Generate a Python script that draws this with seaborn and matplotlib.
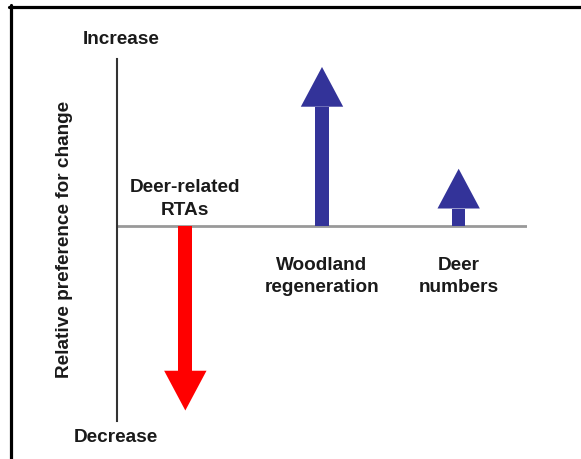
import numpy as np
import pandas as pd
import seaborn as sns
import matplotlib.pyplot as plt
from matplotlib.lines import Line2D

# --- data ----
categories = ['Deer-related RTAs', 'Woodland regeneration', 'Deer numbers']
labels = ['Deer-related\nRTAs', 'Woodland\nregeneration', 'Deer\nnumbers']
preference = [-1.16, 1.0, 0.36]  # relative preference for change
colors = ['#FF0000', '#333399', '#333399']

# --- style params ----
head_len = 0.25
head_half = 0.155
shaft_w = 0.1
fs = 13.7
txt_col = '#1a1a1a'

sns.set_style('white')
plt.rcParams['font.family'] = ['Liberation Sans', 'DejaVu Sans']

vals = np.array(preference)
df = pd.DataFrame({'cat': categories, 'shaft': vals - np.sign(vals) * head_len})

fig = plt.figure(figsize=(5.81, 4.60), dpi=100)
ax = fig.add_axes([117 / 581, 38 / 460, 410 / 581, 362 / 460])

sns.barplot(data=df, x='cat', y='shaft', hue='cat', palette=colors, width=shaft_w,
            saturation=1, linewidth=0, legend=False, ax=ax, zorder=3)

# arrow heads from the same values
for i, v in enumerate(vals):
    base = v - np.sign(v) * head_len
    ax.fill([i - head_half, i + head_half, i], [base, base, v], color=colors[i], lw=0, zorder=3)

ax.axhline(0, color='#999999', lw=2, zorder=2)
ax.set_xlim(-0.5, 2.5)
ax.set_ylim(-1.226, 1.05)
ax.set_xticks([])
ax.set_yticks([])
ax.set_xlabel('')
ax.set_ylabel('')
for s in ['top', 'right', 'bottom']:
    ax.spines[s].set_visible(False)
ax.spines['left'].set_color('#333333')
ax.spines['left'].set_linewidth(1.5)

# category labels
ax.text(0, 0.176, labels[0], ha='center', va='center', fontsize=fs, fontweight='bold',
        color=txt_col, linespacing=1.4)
for i in [1, 2]:
    ax.text(i, -0.311, labels[i], ha='center', va='center', fontsize=fs, fontweight='bold',
            color=txt_col, linespacing=1.4)

ax.text(0.01, 1.058, 'Increase', transform=ax.transAxes, ha='center', va='center',
        fontsize=fs, fontweight='bold', color=txt_col)
ax.text(-0.002, -0.044, 'Decrease', transform=ax.transAxes, ha='center', va='center',
        fontsize=fs, fontweight='bold', color=txt_col)
ax.text(-0.129, 0.505, 'Relative preference for change', transform=ax.transAxes, rotation=90,
        ha='center', va='center', fontsize=fs, fontweight='bold', color=txt_col)

# frame (left and top only)
fig.add_artist(Line2D([10.5 / 581, 10.5 / 581], [0, 1 - 6 / 460], color='black', lw=2.3))
fig.add_artist(Line2D([9 / 581, 1], [1 - 7.5 / 460, 1 - 7.5 / 460], color='black', lw=2.3))

fig.savefig('out.png', dpi=100)
